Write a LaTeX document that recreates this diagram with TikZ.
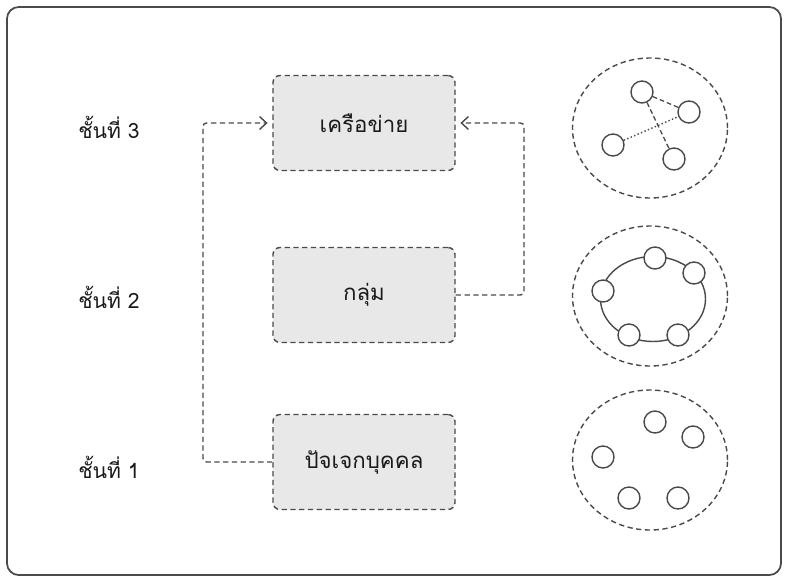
\documentclass[tikz,border=0pt]{standalone}
\usepackage{fontspec}
\newfontfamily\thaifont[Script=Thai]{Loma}
\usetikzlibrary{arrows.meta, shapes.geometric}
\definecolor{linegray}{HTML}{4A4A4A}
\definecolor{boxgray}{HTML}{E8E8E8}
\definecolor{textgray}{HTML}{1A1A1A}

\begin{document}
\begin{tikzpicture}[x=0.03cm, y=-0.03cm]
		\tikzset{level/.style = {shape=rectangle, rounded corners=6pt, draw=linegray, fill=boxgray, dash pattern=on 4.5pt off 3pt, line width=1.2pt, minimum width=5.46cm, minimum height=2.85cm, text=textgray, font=\thaifont\fontsize{19}{22}\selectfont}}
		\tikzset{tag/.style = {text=textgray, font=\thaifont\fontsize{18}{21}\selectfont}}
		\tikzset{link/.style = {draw=linegray, line width=1.2pt, dash pattern=on 4.5pt off 3pt, rounded corners=3pt}}
		\tikzset{arrowlink/.style = {link, -{Straight Barb[length=6pt, width=11pt, line width=1.2pt]}, shorten >=4pt}}
		\tikzset{cloud/.style = {shape=ellipse, draw=linegray, line width=1.2pt, dash pattern=on 4.5pt off 3pt, minimum width=4.65cm, minimum height=4.2cm}}
		\tikzset{member/.style = {shape=circle, draw=linegray, fill=white, line width=1.2pt, minimum size=0.66cm, inner sep=0pt}}

		\useasboundingbox (0,0) rectangle (789,582);
		\draw[linegray, line width=1.5pt, rounded corners=10pt] (7,7) rectangle (781,575);

		% levels
		\node[tag] (tag3) at (109,127) {ชั้นที่ 3};
		\node[tag] (tag2) at (109,297) {ชั้นที่ 2};
		\node[tag] (tag1) at (109,467) {ชั้นที่ 1};

		\node[level] (network) at (364,123) {เครือข่าย};
		\node[level] (group) at (364,295) {กลุ่ม};
		\node[level] (indiv) at (364,462) {ปัจเจกบุคคล};

		\coordinate (leftturn) at (203,462);
		\coordinate (rightturn) at (524,295);
		\draw[arrowlink] (indiv.west) -- (leftturn) |- (network.west);
		\draw[arrowlink] (group.east) -- (rightturn) |- (network.east);

		% network
		\node[cloud] (cloud3) at (650,128) {};
		\node[member] (n1) at (642,92) {};
		\node[member] (n2) at (689,112) {};
		\node[member] (n3) at (613,145) {};
		\node[member] (n4) at (674,159) {};
		\draw[linegray, line width=1.1pt, dash pattern=on 4pt off 2.5pt] (n1) -- (n2);
		\draw[linegray, line width=1.1pt, dash pattern=on 4pt off 2.5pt] (n1) -- (n4);
		\draw[linegray, line width=1.2pt, dotted] (n3) -- (n2);

		% group
		\node[cloud] (cloud2) at (650,296) {};
		\node[shape=ellipse, draw=linegray, line width=1.2pt, minimum width=3.15cm, minimum height=2.55cm] (ring) at (653,299) {};
		\node[member] (g1) at (655,258) {};
		\node[member] (g2) at (694,273) {};
		\node[member] (g3) at (603,291) {};
		\node[member] (g4) at (629,335) {};
		\node[member] (g5) at (678,335) {};

		% individuals
		\node[cloud] (cloud1) at (650,460) {};
		\node[member] (p1) at (655,422) {};
		\node[member] (p2) at (693,437) {};
		\node[member] (p3) at (603,457) {};
		\node[member] (p4) at (629,498) {};
		\node[member] (p5) at (678,498) {};

	\end{tikzpicture}
\end{document}
